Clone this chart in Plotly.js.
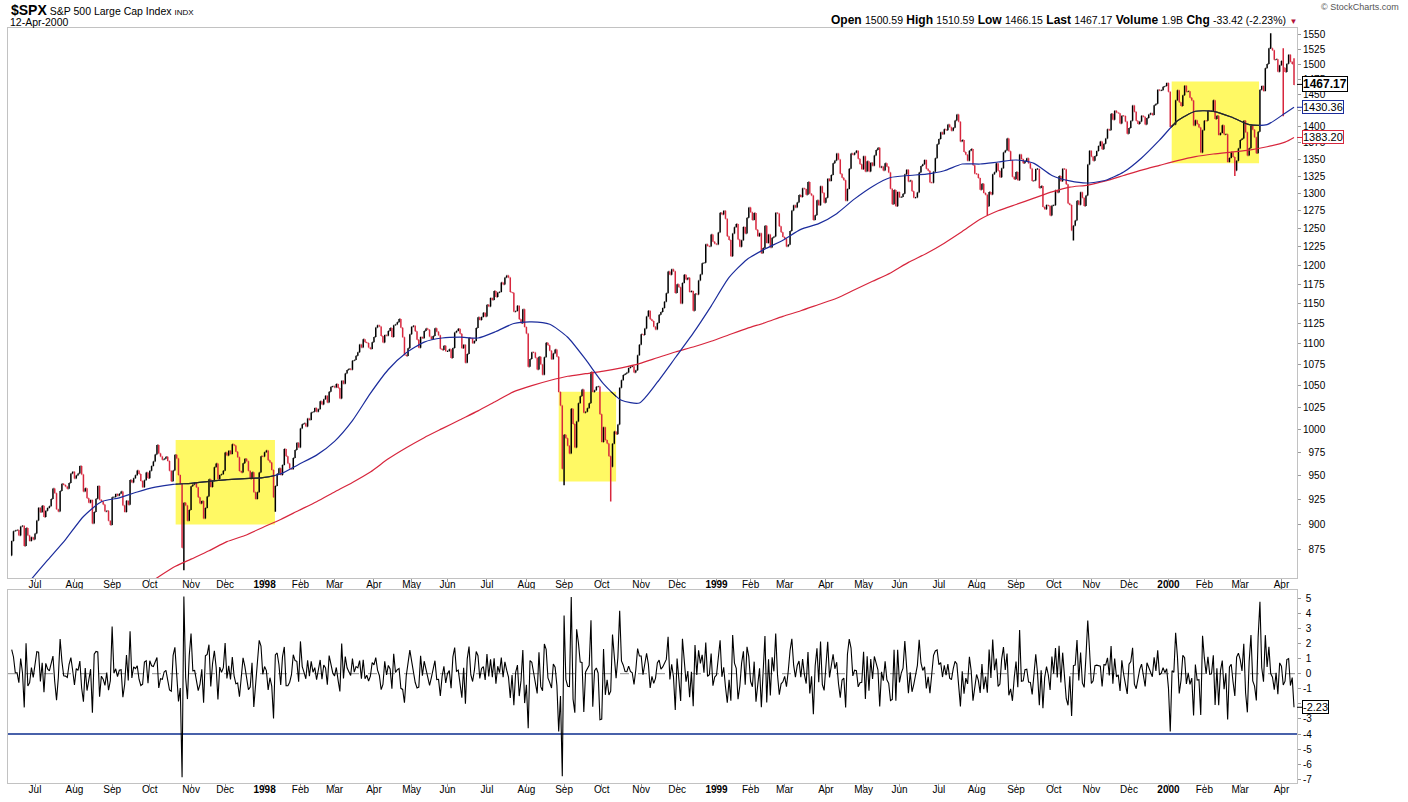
<!DOCTYPE html>
<html><head><meta charset="utf-8">
<script src="https://cdn.plot.ly/plotly-3.0.1.min.js"></script>
<style>html,body{margin:0;padding:0;background:#fff;}#chart{width:1408px;height:802px;}</style>
</head><body><div id="chart"></div>
<script>
// ---------------- DATA ----------------
const firstDay = '1997-06-12';
const lastDay = '2000-04-12';
const prevClose = 869.57; // close before first bar
const holidays = ['1997-07-04','1997-09-01','1997-11-27','1997-12-25','1998-01-01','1998-01-19','1998-02-16','1998-04-10','1998-05-25','1998-07-03','1998-09-07','1998-11-26','1998-12-25','1999-01-01','1999-01-18','1999-02-15','1999-04-02','1999-05-31','1999-07-05','1999-09-06','1999-11-25','1999-12-24','2000-01-17','2000-02-21'];

const m1997_06 = [883.48,893.27,893.90,894.42,889.06,897.99,898.70,878.62,896.34,888.99,883.68,887.30,885.14];
const m1997_07 = [891.03,904.03,916.92,912.20,918.75,907.54,913.78,916.68,918.38,925.76,936.59,931.61,915.30,912.94,933.98,941.64,940.30,938.79,936.45,942.29,952.29,954.29];
const m1997_08 = [947.14,950.30,952.37,960.32,951.19,933.54,937.00,926.53,922.02,924.77,900.81,912.49,926.01,939.35,925.05,923.54,920.16,913.02,913.70,903.67,899.47];
const m1997_09 = [927.58,927.86,930.87,929.05,931.20,933.62,919.03,912.59,923.91,919.77,945.64,943.00,947.29,950.51,955.43,951.93,944.48,937.91,945.22,953.34,947.28];
const m1997_10 = [955.41,960.46,965.03,972.69,983.12,973.84,970.62,966.98,968.10,970.28,965.72,955.25,944.16,955.61,972.28,968.49,950.69,941.64,876.99,921.85,919.16,903.68,914.62];
const m1997_11 = [938.99,940.76,942.76,938.03,927.51,921.13,923.78,905.96,916.66,928.35,946.20,938.23,944.59,958.98,963.09,946.67,950.82,951.64,955.40];
const m1997_12 = [974.77,971.68,976.77,973.10,983.79,982.37,975.78,969.79,954.94,953.39,963.39,968.04,965.54,955.30,946.78,953.70,932.70,925.77,932.70,953.36,970.84,970.43];
const m1998_01 = [975.04,977.07,966.58,964.00,956.05,927.69,939.21,952.12,957.94,950.73,961.51,978.60,970.81,963.04,957.59,956.95,969.02,977.46,985.49,980.28];
const m1998_02 = [1001.27,1006.00,1006.90,1003.54,1012.46,1010.74,1019.01,1020.01,1024.14,1020.09,1022.76,1032.08,1028.28,1034.21,1038.14,1030.56,1042.90,1048.67,1049.34];
const m1998_03 = [1047.70,1052.02,1047.33,1035.05,1055.69,1052.31,1064.25,1068.47,1069.92,1068.61,1079.27,1080.45,1085.52,1089.74,1099.16,1095.55,1105.65,1101.93,1100.80,1095.44,1093.60,1101.75];
const m1998_04 = [1108.15,1120.01,1122.70,1121.38,1109.55,1101.65,1110.67,1109.69,1115.75,1119.32,1108.17,1122.72,1123.65,1126.67,1130.54,1119.58,1107.90,1086.54,1085.11,1094.63,1111.75];
const m1998_05 = [1121.00,1122.07,1115.50,1104.92,1095.14,1108.14,1106.64,1115.79,1118.86,1117.37,1108.73,1105.82,1109.52,1119.06,1114.64,1110.47,1094.02,1092.23,1097.60,1090.82];
const m1998_06 = [1090.98,1093.22,1082.73,1094.83,1113.86,1115.72,1118.41,1112.28,1094.58,1098.84,1077.01,1087.59,1107.11,1106.37,1100.65,1103.21,1119.49,1132.88,1129.28,1133.20,1138.49,1133.84];
const m1998_07 = [1148.56,1146.42,1157.33,1154.66,1166.38,1158.56,1164.33,1165.19,1177.58,1174.81,1183.99,1186.75,1184.10,1165.07,1164.08,1139.75,1140.80,1147.27,1130.24,1125.21,1142.95,1120.67];
const m1998_08 = [1112.44,1072.12,1081.43,1089.63,1089.45,1083.14,1068.98,1084.22,1074.91,1062.75,1083.67,1101.20,1098.06,1091.60,1081.24,1088.14,1092.85,1084.19,1042.59,1027.14,957.28];
const m1998_09 = [994.24,990.47,982.26,973.89,1023.46,1006.20,980.19,1009.06,1029.72,1037.68,1045.48,1018.87,1020.09,1023.89,1029.63,1066.09,1042.72,1044.75,1048.69,1049.02,1017.01];
const m1998_10 = [986.39,1002.60,988.56,984.59,970.68,959.44,984.39,997.71,994.80,1005.53,1047.49,1056.42,1062.39,1063.93,1065.34,1070.67,1072.32,1072.98,1065.34,1068.09,1085.93,1098.67];
const m1998_11 = [1111.60,1110.84,1118.67,1133.85,1141.01,1130.20,1128.26,1120.97,1117.69,1125.72,1135.87,1139.32,1144.48,1152.61,1163.55,1192.03,1187.46,1194.86,1192.33,1163.63];
const m1998_12 = [1175.28,1171.25,1150.14,1176.74,1187.70,1181.38,1183.49,1165.02,1166.46,1141.20,1162.83,1161.94,1179.98,1188.03,1202.84,1203.57,1228.54,1226.27,1225.49,1241.81,1231.93,1229.23];
const m1999_01 = [1228.10,1244.78,1272.34,1269.73,1275.09,1263.88,1239.51,1234.40,1212.19,1243.26,1252.00,1256.44,1235.16,1225.19,1233.98,1252.31,1243.17,1265.37,1279.64];
const m1999_02 = [1273.00,1261.99,1272.07,1248.49,1239.40,1243.77,1216.14,1223.55,1254.04,1230.13,1241.87,1224.03,1237.28,1239.22,1272.14,1271.18,1253.41,1245.02,1238.33];
const m1999_03 = [1236.16,1225.50,1227.70,1246.64,1275.47,1282.73,1279.84,1286.84,1297.68,1294.59,1307.26,1306.38,1297.82,1316.55,1299.29,1297.01,1262.14,1268.59,1289.99,1282.80,1310.17,1300.75,1286.37];
const m1999_04 = [1293.72,1321.12,1317.89,1326.89,1343.98,1348.35,1358.63,1349.82,1328.44,1322.85,1319.00,1289.48,1306.17,1336.12,1358.82,1356.85,1360.04,1362.80,1350.91,1342.83,1335.18];
const m1999_05 = [1354.63,1332.00,1347.31,1332.05,1345.00,1340.30,1355.61,1364.00,1367.56,1337.80,1339.49,1333.32,1344.23,1338.83,1330.29,1306.65,1284.40,1304.76,1281.41,1301.84];
const m1999_06 = [1294.26,1294.81,1299.54,1327.75,1334.52,1317.33,1318.64,1302.82,1293.64,1294.00,1301.16,1330.41,1339.90,1342.84,1349.00,1335.87,1333.06,1315.78,1315.31,1331.35,1351.45,1372.71];
const m1999_07 = [1380.96,1391.22,1388.12,1395.86,1394.42,1403.28,1399.10,1393.56,1398.17,1409.62,1418.78,1407.65,1377.10,1379.29,1360.97,1356.94,1347.76,1362.84,1365.40,1341.03,1328.72];
const m1999_08 = [1328.05,1322.18,1305.33,1313.71,1300.29,1297.80,1281.43,1301.93,1298.16,1327.68,1330.77,1344.16,1332.84,1323.59,1336.61,1360.22,1363.50,1381.79,1362.01,1348.27,1324.02,1320.41];
const m1999_09 = [1331.07,1319.11,1357.24,1350.45,1344.15,1347.66,1351.66,1344.13,1336.29,1317.97,1318.48,1335.42,1335.53,1307.58,1310.51,1280.41,1277.36,1283.31,1282.20,1268.37,1282.71];
const m1999_10 = [1282.81,1304.60,1301.35,1325.40,1317.64,1336.02,1335.21,1313.04,1285.55,1283.42,1247.41,1254.13,1261.32,1289.43,1283.61,1301.65,1293.63,1281.91,1296.71,1342.44,1362.93];
const m1999_11 = [1354.12,1347.74,1354.93,1362.64,1370.23,1377.01,1365.28,1373.46,1381.46,1396.06,1394.39,1420.07,1410.71,1424.94,1422.00,1420.94,1404.64,1417.08,1416.62,1407.83,1388.91];
const m1999_12 = [1397.72,1409.04,1433.30,1423.33,1409.17,1403.88,1408.11,1417.04,1415.22,1403.17,1413.32,1418.78,1421.03,1418.09,1433.43,1436.13,1458.34,1457.10,1457.66,1463.46,1464.47,1469.25];
const m2000_01 = [1455.22,1399.42,1402.11,1403.45,1441.47,1457.60,1438.56,1432.25,1449.68,1465.15,1455.14,1455.90,1445.57,1441.36,1401.53,1410.03,1404.09,1398.56,1360.16,1394.46];
const m2000_02 = [1409.28,1409.12,1424.97,1424.37,1424.24,1441.72,1411.71,1416.83,1387.12,1389.94,1402.05,1387.67,1388.26,1346.09,1352.17,1360.69,1353.43,1333.36,1348.05,1366.42];
const m2000_03 = [1379.19,1381.76,1409.17,1391.28,1355.62,1366.70,1401.69,1395.07,1383.62,1359.15,1392.14,1458.47,1464.47,1456.63,1493.87,1500.64,1527.35,1527.46,1523.86,1507.73,1508.52,1487.92,1498.58];
const m2000_04 = [1505.97,1494.73,1487.37,1501.34,1516.35,1504.46,1500.59,1467.17];

const months = ['1997-06','1997-07','1997-08','1997-09','1997-10','1997-11','1997-12','1998-01','1998-02','1998-03','1998-04','1998-05','1998-06','1998-07','1998-08','1998-09','1998-10','1998-11','1998-12','1999-01','1999-02','1999-03','1999-04','1999-05','1999-06','1999-07','1999-08','1999-09','1999-10','1999-11','1999-12','2000-01','2000-02','2000-03','2000-04'];
const closeByMonth = [m1997_06,m1997_07,m1997_08,m1997_09,m1997_10,m1997_11,m1997_12,m1998_01,m1998_02,m1998_03,m1998_04,m1998_05,m1998_06,m1998_07,m1998_08,m1998_09,m1998_10,m1998_11,m1998_12,m1999_01,m1999_02,m1999_03,m1999_04,m1999_05,m1999_06,m1999_07,m1999_08,m1999_09,m1999_10,m1999_11,m1999_12,m2000_01,m2000_02,m2000_03,m2000_04];

// notable intraday extremes (wicks)
const extDates = ['1997-10-28','1998-01-12','1998-09-01','1998-10-08','1999-08-10','1999-10-18','2000-02-25','2000-03-24','2000-04-04','2000-04-12'];
const extLows  = [855.3, 912.8, 940.0, 923.3, 1268.4, 1233.7, 1325.1, null, 1416.2, 1466.15];
const extHighs = [null, null, null, null, null, null, null, 1552.9, 1527.2, 1510.59];

// moving averages, one value every 10 bars + last bar
const maStep = 10;
const ma50 = [825,845,865,885,908,923,927,933,938,941,942,944,946,947,948,952,962,972,987,1010,1041,1069,1089,1102,1107,1108,1107,1115,1125,1127,1124,1108,1081,1052,1033,1030,1054,1083,1113,1147,1184,1208,1222,1234,1249,1257,1271,1292,1310,1323,1326,1328,1333,1343,1343,1346,1349,1344,1326,1318,1315,1319,1331,1352,1379,1409,1424,1424,1415,1403,1403,1421,1430.36];
const ma200 = [762,772,782,793,804,815,826,837,847,858,866,874,883,889,897,905,914,923,933,943,954,968,980,991,1001,1011,1021,1032,1043,1050,1056,1061,1064,1067,1071,1076,1083,1090,1096,1103,1111,1119,1126,1134,1141,1149,1157,1168,1179,1190,1204,1216,1230,1246,1263,1275,1284,1293,1302,1309,1312,1318,1326,1334,1341,1348,1354,1358,1361,1364,1369,1376,1383.20];

// highlighted zones
const boxStart = ['1997-10-21 10:00','1998-08-27 00:00','2000-01-04 19:00'];
const boxEnd   = ['1998-01-09 19:00','1998-10-13 00:00','2000-03-15 12:00'];
const boxLow   = [900, 944, 1344];
const boxHigh  = [988.6, 1043, 1472];

const quoteOpen = 1500.59, quoteHigh = 1510.59, quoteLow = 1466.15, quoteVolume = '1.9B';
const alertLevel = -4;
const monthNames = ['Jan','Feb','Mar','Apr','May','Jun','Jul','Aug','Sep','Oct','Nov','Dec'];
const priceTicks = [875,900,925,950,975,1000,1025,1050,1075,1100,1125,1150,1175,1200,1225,1250,1275,1300,1325,1350,1375,1400,1425,1450,1475,1500,1525,1550];
const pctTicks = [-7,-6,-5,-4,-3,-2,-1,0,1,2,3,4,5];
const hiddenPriceLabels = [1425];   // covered by the 50-day tag in the reference
const hiddenPctLabels = [-2];       // covered by the last-value tag

// ---------------- BUILD ----------------
const dates = [], closes = [];
months.forEach((ym, mi) => {
  const [y, m] = ym.split('-').map(Number);
  const vals = closeByMonth[mi];
  const dim = new Date(Date.UTC(y, m, 0)).getUTCDate();
  const days = [];
  for (let d = 1; d <= dim; d++) {
    const dt = new Date(Date.UTC(y, m - 1, d));
    const wd = dt.getUTCDay();
    const s = dt.toISOString().slice(0, 10);
    if (wd === 0 || wd === 6 || holidays.includes(s)) continue;
    if (s < firstDay || s > lastDay) continue;
    days.push(s);
  }
  if (days.length !== vals.length) console.warn('count mismatch', ym, days.length, vals.length);
  for (let i = 0; i < Math.min(days.length, vals.length); i++) { dates.push(days[i]); closes.push(vals[i]); }
});
const opens = closes.map((c, i) => i === 0 ? prevClose : closes[i - 1]);
const highs = closes.map((c, i) => Math.max(c, opens[i]));
const lows = closes.map((c, i) => Math.min(c, opens[i]));
extDates.forEach((d, k) => {
  const i = dates.indexOf(d);
  if (i < 0) return;
  if (extLows[k] != null) lows[i] = Math.min(lows[i], extLows[k]);
  if (extHighs[k] != null) highs[i] = Math.max(highs[i], extHighs[k]);
});
const pct = closes.map((c, i) => (c / opens[i] - 1) * 100);

const maX = [];
for (let k = 0; k < ma50.length - 1; k++) maX.push(dates[Math.min(k * maStep, dates.length - 1)]);
maX.push(dates[dates.length - 1]);

const tickVals = [], tickText = [];
for (let i = 1; i < dates.length; i++) {
  if (dates[i].slice(5, 7) !== dates[i - 1].slice(5, 7)) {
    tickVals.push(dates[i]);
    const mo = Number(dates[i].slice(5, 7));
    tickText.push(mo === 1 ? '<b>' + dates[i].slice(0, 4) + '</b>' : monthNames[mo - 1]);
  }
}

const FONT = 'Liberation Sans, Arial, sans-serif';
const RED = '#d7263d', BLUE = '#1b2c9c', YEL = '#fff964', FRAME = '#c2c2c2', MA_IN_BOX = '#2a2a18';

const traces = [
  {type: 'ohlc', x: dates, open: opens, high: highs, low: lows, close: closes,
   xaxis: 'x', yaxis: 'y', tickwidth: 0.3, hoverinfo: 'skip',
   increasing: {line: {color: '#000000', width: 1.5}},
   decreasing: {line: {color: RED, width: 1.5}}},
  {type: 'scatter', mode: 'lines', x: maX, y: ma200, xaxis: 'x', yaxis: 'y',
   line: {color: RED, width: 1.2, shape: 'spline', smoothing: 0.6}, hoverinfo: 'skip'},
  {type: 'scatter', mode: 'lines', x: maX, y: ma50, xaxis: 'x', yaxis: 'y',
   line: {color: BLUE, width: 1.2, shape: 'spline', smoothing: 0.6}, hoverinfo: 'skip'},
  {type: 'scatter', mode: 'lines', x: dates, y: pct, xaxis: 'x2', yaxis: 'y2',
   line: {color: '#000000', width: 1.1}, hoverinfo: 'skip'}
];

const shapes = [];
shapes.push({type: 'line', xref: 'paper', yref: 'y2', x0: 0, x1: 1, y0: 0, y1: 0, line: {color: '#8a8a8a', width: 1, dash: 'dash'}, layer: 'below'});
shapes.push({type: 'line', xref: 'paper', yref: 'y2', x0: 0, x1: 1, y0: alertLevel, y1: alertLevel, line: {color: '#0b2d8e', width: 1.3}, layer: 'below'});
boxStart.forEach((s, k) => shapes.push({type: 'rect', xref: 'x', yref: 'y', x0: s, x1: boxEnd[k], y0: boxLow[k], y1: boxHigh[k],
  fillcolor: YEL, line: {width: 0}, layer: 'below'}));

const xCommon = {
  type: 'date', range: ['1997-06-09 22:30', '2000-04-13 16:00'],
  rangebreaks: [{bounds: ['sat', 'mon']}, {values: holidays}],
  rangeslider: {visible: false},
  tickmode: 'array', tickvals: tickVals, ticktext: tickText,
  tickfont: {family: FONT, size: 10, color: '#000'}, ticks: 'outside', ticklen: 3, tickcolor: '#9a9a9a',
  showgrid: false, zeroline: false, showline: true, mirror: true, linecolor: FRAME, linewidth: 1,
  ticklabelstandoff: -6, fixedrange: true
};
const fs = '\u2007', ps = '\u2008';
const layout = {
  width: 1408, height: 802, paper_bgcolor: '#fff', plot_bgcolor: '#fff',
  margin: {l: 8, r: 111, t: 28, b: 19}, showlegend: false, hovermode: false,
  font: {family: FONT, size: 10, color: '#000'},
  xaxis: Object.assign({}, xCommon, {anchor: 'y'}),
  xaxis2: Object.assign({}, xCommon, {anchor: 'y2', matches: 'x'}),
  yaxis: {domain: [0.2715, 1], type: 'log', range: [Math.log10(848), Math.log10(1562)], side: 'right', anchor: 'x',
    tickmode: 'array', tickvals: priceTicks,
    ticktext: priceTicks.map(v => hiddenPriceLabels.includes(v) ? '' : (v < 1000 ? fs + v : String(v))),
    tickfont: {family: FONT, size: 10, color: '#000'}, ticks: 'outside', ticklen: 3, tickcolor: '#9a9a9a',
    showgrid: false, zeroline: false, showline: true, mirror: true, linecolor: FRAME, fixedrange: true},
  yaxis2: {domain: [0, 0.2556], range: [-7.25, 5.55], side: 'right', anchor: 'x2',
    tickmode: 'array', tickvals: pctTicks,
    ticktext: pctTicks.map(v => hiddenPctLabels.includes(v) ? '' : (v < 0 ? '-' + Math.abs(v) : ps + v)),
    tickfont: {family: FONT, size: 10, color: '#000'}, ticks: 'outside', ticklen: 3, tickcolor: '#9a9a9a',
    showgrid: false, zeroline: false, showline: true, mirror: true, linecolor: FRAME, fixedrange: true},
  shapes: shapes,
  annotations: []
};

const last = closes[closes.length - 1], prev = opens[opens.length - 1];
const chg = last - prev, chgPct = chg / prev * 100;
const A = layout.annotations;
A.push({xref: 'paper', yref: 'paper', x: 0, y: 1, xanchor: 'left', yanchor: 'middle', xshift: 1, yshift: 18, showarrow: false,
  text: '<span style="font-size:14px"><b>$SPX</b></span> S&amp;P 500 Large Cap Index <span style="font-size:8px">INDX</span>',
  font: {family: FONT, size: 10.5, color: '#000'}});
A.push({xref: 'paper', yref: 'paper', x: 0, y: 1, xanchor: 'left', yanchor: 'middle', xshift: 0, yshift: 6, showarrow: false,
  text: '12-Apr-2000', font: {family: FONT, size: 10.5, color: '#000'}});
A.push({xref: 'paper', yref: 'paper', x: 1, y: 1, xanchor: 'right', yanchor: 'middle', xshift: 104, yshift: 21, showarrow: false,
  text: '© StockCharts.com', font: {family: FONT, size: 9, color: '#555'}});
const sv = v => '<span style="font-size:10.5px">' + v + '</span>';
A.push({xref: 'paper', yref: 'paper', x: 1, y: 1, xanchor: 'right', yanchor: 'middle', xshift: 2, yshift: 8, showarrow: false,
  text: '<b>Open</b> ' + sv(quoteOpen.toFixed(2)) + ' <b>High</b> ' + sv(quoteHigh.toFixed(2)) + ' <b>Low</b> ' + sv(quoteLow.toFixed(2)) +
        ' <b>Last</b> ' + sv(last.toFixed(2)) + ' <b>Volume</b> ' + sv(quoteVolume) + ' <b>Chg</b> ' +
        sv(chg.toFixed(2) + ' (' + chgPct.toFixed(2) + '%)') + ' <span style="font-size:8px;color:#b3123a">▼</span>',
  font: {family: FONT, size: 12, color: '#000'}});
function tag(text, yv, yref, color, bold) {
  return {xref: 'paper', x: 1, yref: yref, y: yv, xanchor: 'left', yanchor: 'middle',
    text: bold ? '<b>' + text + '</b>' : text, showarrow: true, ax: 5, ay: 0, arrowhead: 0, arrowwidth: 1, arrowcolor: color,
    bgcolor: '#ffffff', bordercolor: color, borderwidth: 1, borderpad: 0,
    font: {family: FONT, size: bold ? 12 : 11, color: '#000'}};
}
A.push(tag(last.toFixed(2), Math.log10(last), 'y', '#000', true));
A.push(tag(ma50[ma50.length - 1].toFixed(2), Math.log10(ma50[ma50.length - 1]), 'y', BLUE, false));
A.push(tag(ma200[ma200.length - 1].toFixed(2), Math.log10(ma200[ma200.length - 1]), 'y', RED, false));
A.push(tag(pct[pct.length - 1].toFixed(2), pct[pct.length - 1], 'y2', '#000', false));

Plotly.newPlot('chart', traces, layout, {displayModeBar: false, staticPlot: true}).then(gd => {
  // darken the 50-day line where it crosses the highlighted zones (as the yellow overlay does in the reference)
  try {
    const fl = gd._fullLayout, xa = fl.xaxis, ya = fl.yaxis;
    const sub = gd.querySelector('.subplot.xy');
    const line = sub.querySelectorAll('.scatterlayer .trace')[1].querySelector('path.js-line');
    const NS = 'http://www.w3.org/2000/svg';
    const defs = gd.querySelector('.main-svg defs');
    const cp = document.createElementNS(NS, 'clipPath');
    cp.setAttribute('id', 'maBoxClip');
    boxStart.forEach((s, k) => {
      const x0 = xa.c2p(xa.d2c(s)), x1 = xa.c2p(xa.d2c(boxEnd[k]));
      const y0 = ya.c2p(ya.d2c(boxHigh[k])), y1 = ya.c2p(ya.d2c(boxLow[k]));
      const r = document.createElementNS(NS, 'rect');
      r.setAttribute('x', Math.min(x0, x1)); r.setAttribute('y', Math.min(y0, y1));
      r.setAttribute('width', Math.abs(x1 - x0)); r.setAttribute('height', Math.abs(y1 - y0));
      cp.appendChild(r);
    });
    defs.appendChild(cp);
    const c = line.cloneNode(true);
    c.style.stroke = MA_IN_BOX;
    c.setAttribute('clip-path', 'url(#maBoxClip)');
    line.parentNode.appendChild(c);
  } catch (e) { console.warn(e); }
});
</script>
</body></html>
